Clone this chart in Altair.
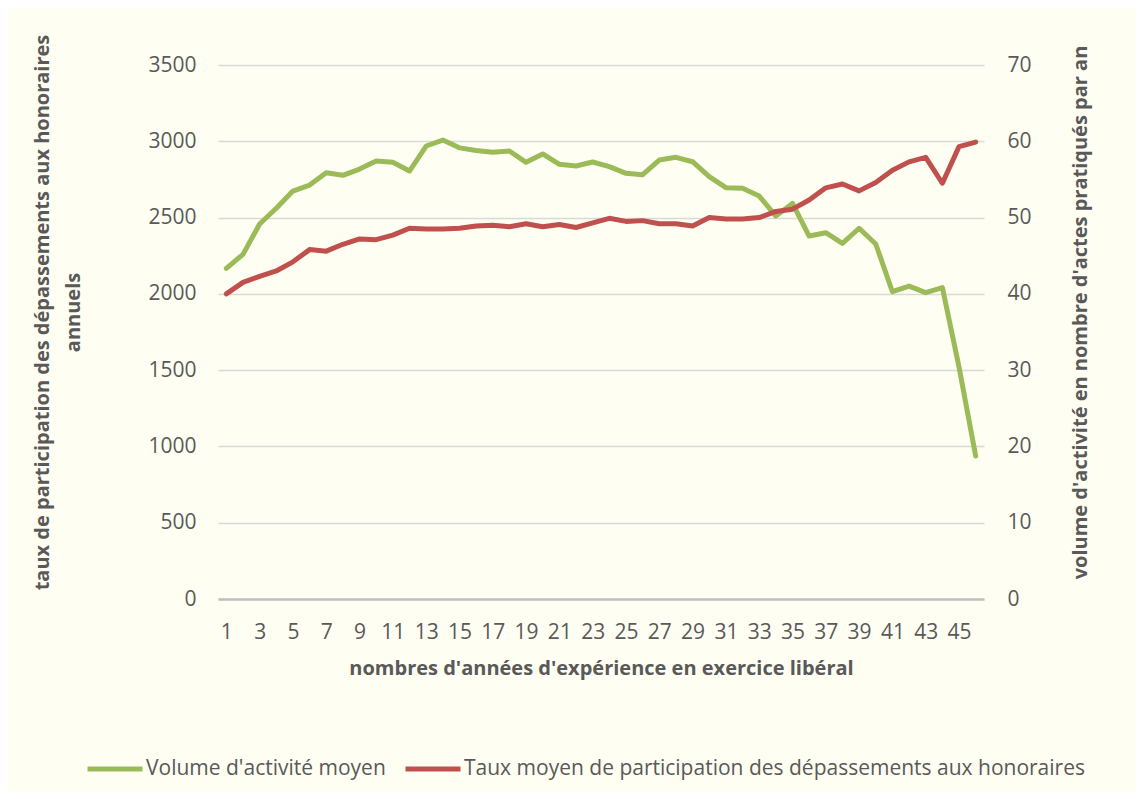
import altair as alt
import pandas as pd

years = list(range(1, 47))
volume = [2167, 2259, 2458, 2561, 2674, 2713, 2794, 2777, 2818, 2871,
          2862, 2805, 2969, 3008, 2957, 2940, 2928, 2936, 2862, 2917,
          2849, 2838, 2864, 2834, 2790, 2781, 2877, 2895, 2866, 2768,
          2696, 2692, 2641, 2510, 2593, 2379, 2401, 2331, 2430, 2327,
          2014, 2051, 2008, 2041, 1520, 937]
taux = [40.0, 41.5, 42.3, 43.0, 44.2, 45.8, 45.6, 46.5, 47.2, 47.1,
        47.7, 48.6, 48.5, 48.5, 48.6, 48.9, 49.0, 48.8, 49.2, 48.8,
        49.1, 48.7, 49.3, 49.9, 49.5, 49.6, 49.2, 49.2, 48.9, 50.0,
        49.8, 49.8, 50.0, 50.8, 51.1, 52.3, 53.9, 54.4, 53.5, 54.6,
        56.2, 57.3, 57.9, 54.5, 59.3, 59.9]
series_names = ["Volume d'activité moyen",
                "Taux moyen de participation des dépassements aux honoraires"]
series_colors = ["#9BBB59", "#C0504D"]
x_ticks = list(range(1, 46, 2))
left_ticks = list(range(0, 3501, 500))
right_ticks = list(range(0, 71, 10))

x_title = "nombres d'années d'expérience en exercice libéral"
left_title = ["taux de participation des dépassements aux honoraires", "annuels"]
right_title = "volume d'activité en nombre d'actes pratiqués par an"

df_g = pd.DataFrame({"annee": years, "valeur": volume, "serie": series_names[0]})
df_r = pd.DataFrame({"annee": years, "valeur": taux, "serie": series_names[1]})

FONT = "Open Sans"
TXT = "#595959"

x_enc = alt.X(
    "annee:Q",
    scale=alt.Scale(domain=[0.5, 46.5], nice=False, zero=False),
    axis=alt.Axis(
        values=x_ticks, title=x_title, grid=False, ticks=False,
        domainColor="#BFBFBF", domainWidth=2.6, labelPadding=22,
        labelFlush=False, labelOverlap=False, format="d",
        titleBaseline="middle", titleY=69,
    ),
)

color_enc = alt.Color(
    "serie:N",
    scale=alt.Scale(domain=series_names, range=series_colors),
    title=None,
    legend=alt.Legend(
        orient="none", legendX=-133, legendY=674, direction="horizontal",
        symbolType="stroke", symbolSize=3025, symbolStrokeWidth=5,
        labelOffset=1, columnPadding=9, labelLimit=900,
        labelFontSize=21, labelColor=TXT, labelFont=FONT,
    ),
)

line_style = dict(strokeWidth=5, strokeCap="round", strokeJoin="round")

green = alt.Chart(df_g).mark_line(**line_style).encode(
    x=x_enc,
    y=alt.Y(
        "valeur:Q",
        scale=alt.Scale(domain=[0, 3500], nice=False),
        axis=alt.Axis(
            orient="left", values=left_ticks, title=left_title, format="d",
            grid=True, gridColor="#D9D9D9", gridWidth=1.3,
            domain=False, ticks=False, labelPadding=22,
            titleAngle=270, titleBaseline="middle", titleAlign="center",
            titleX=-176, titleY=247, titleLineHeight=31,
        ),
    ),
    color=color_enc,
)

red = alt.Chart(df_r).mark_line(**line_style).encode(
    x=x_enc,
    y=alt.Y(
        "valeur:Q",
        scale=alt.Scale(domain=[0, 70], nice=False),
        axis=alt.Axis(
            orient="right", values=right_ticks, title=right_title, format="d",
            grid=False, domain=False, ticks=False, labelPadding=23,
            titleAngle=270, titleBaseline="middle", titleAlign="center",
            titleX=96, titleY=247,
        ),
    ),
    color=color_enc,
)

chart = (
    alt.layer(green, red)
    .resolve_scale(y="independent")
    .properties(
        width=766, height=534,
        autosize=alt.AutoSizeParams(type="none"),
        padding={"left": 210, "top": 57, "right": 152, "bottom": 192},
        background="#FFFEF2",
    )
    .configure_view(stroke=None)
    .configure_axis(
        labelFont=FONT, labelFontSize=21, labelColor=TXT,
        titleFont=FONT, titleFontSize=20, titleFontWeight="bold", titleColor=TXT,
    )
)

chart.save("out.html", embed_options={"renderer": "svg", "actions": False})
